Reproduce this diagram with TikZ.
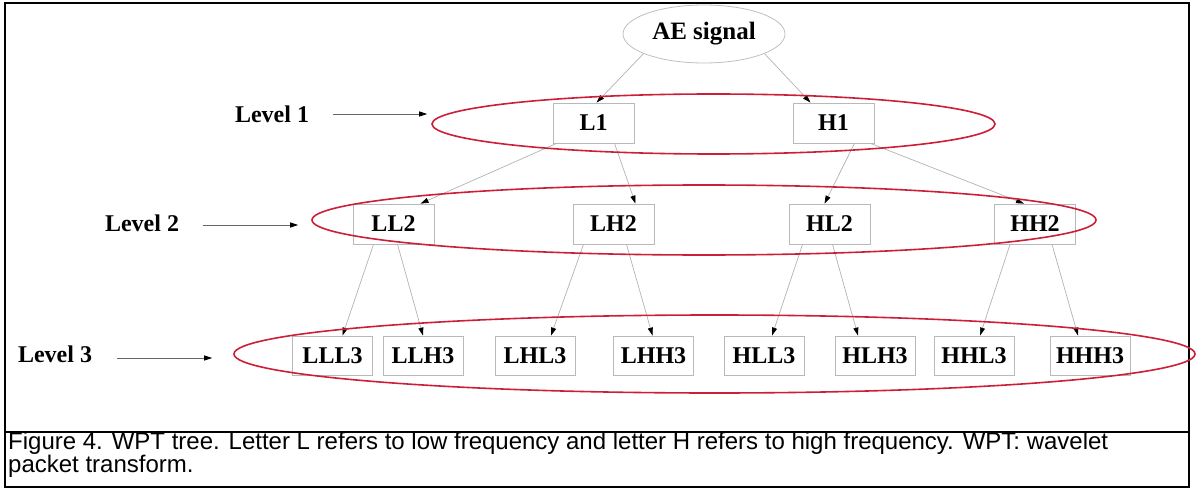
\documentclass[tikz,border=0pt]{standalone}
\usepackage{fontspec}
\setmainfont{Liberation Serif}
\newfontfamily\capfont{Liberation Sans}
\usetikzlibrary{arrows.meta,calc,shapes.geometric}
\definecolor{ringred}{RGB}{205,30,55}
\begin{document}
\begin{tikzpicture}[x=1pt,y=-1pt,
  box/.style={draw=gray!55,line width=0.8pt,minimum width=81pt,minimum height=40pt,inner sep=0pt,font=\bfseries\fontsize{24}{26}\selectfont},
  lvl/.style={font=\bfseries\fontsize{24}{26}\selectfont,inner sep=0pt},
  edge/.style={draw=gray!60,line width=0.7pt,-{Triangle[length=8pt,width=5pt,color=black]}},
  larrow/.style={draw=black!60,line width=0.8pt,-{Triangle[length=8pt,width=5pt,color=black]}},
  ring/.style={ellipse,draw=ringred,line width=1.6pt,inner sep=0pt},
  captext/.style={anchor=base west,inner sep=0pt,font=\capfont\fontsize{24}{28}\selectfont}
]
\useasboundingbox (0,0) rectangle (1198,489);
% frame
\draw[line width=2pt] (5,3) rectangle (1189,487);
\draw[line width=2pt] (5,432) -- (1189,432);
% root
\node[ellipse,draw=gray!50,line width=0.8pt,minimum width=162pt,minimum height=58pt,inner sep=0pt,font=\bfseries\fontsize{25}{27}\selectfont] (AE) at (704,34) {AE signal};
% level 1
\node[box] (L1) at (593.5,123) {L1};
\node[box] (H1) at (833.5,123) {H1};
% level 2
\node[box] (LL2) at (393.5,224) {LL2};
\node[box] (LH2) at (613.5,224) {LH2};
\node[box] (HL2) at (829.5,224) {HL2};
\node[box] (HH2) at (1035,224) {HH2};
% level 3
\node[box,minimum width=80pt,minimum height=39pt] (LLL3) at (332.5,355.5) {LLL3};
\node[box,minimum width=80pt,minimum height=39pt] (LLH3) at (423,355.5) {LLH3};
\node[box,minimum width=80pt,minimum height=39pt] (LHL3) at (535,355.5) {LHL3};
\node[box,minimum width=80pt,minimum height=39pt] (LHH3) at (653.5,355.5) {LHH3};
\node[box,minimum width=80pt,minimum height=39pt] (HLL3) at (764,355.5) {HLL3};
\node[box,minimum width=80pt,minimum height=39pt] (HLH3) at (875,355.5) {HLH3};
\node[box,minimum width=80pt,minimum height=39pt] (HHL3) at (974,355.5) {HHL3};
\node[box,minimum width=80pt,minimum height=39pt] (HHH3) at (1090,355.5) {HHH3};
% edges
\draw[edge] (AE.198) -- ($(L1.north)+(3,0)$);
\draw[edge] (AE.342) -- ($(H1.north)+(-23,0)$);
\draw[edge] ($(L1.south)+(-37,0)$) -- ($(LL2.north)+(27,0)$);
\draw[edge] ($(L1.south)+(21,0)$) -- ($(LH2.north)+(22,0)$);
\draw[edge] ($(H1.south)+(21,0)$) -- ($(HL2.north)+(-5,0)$);
\draw[edge] ($(H1.south)+(37,0)$) -- ($(HH2.north)+(-11,0)$);
\draw[edge] ($(LL2.south)+(-20,0)$) -- ($(LLL3.north)+(10,0)$);
\draw[edge] ($(LL2.south)+(4,0)$) -- ($(LLH3.north)+(0,0)$);
\draw[edge] ($(LH2.south)+(-30,0)$) -- ($(LHL3.north)+(16,0)$);
\draw[edge] ($(LH2.south)+(13,0)$) -- ($(LHH3.north)+(-1,0)$);
\draw[edge] ($(HL2.south)+(-27,0)$) -- ($(HLL3.north)+(8,0)$);
\draw[edge] ($(HL2.south)+(3,0)$) -- ($(HLH3.north)+(-17,0)$);
\draw[edge] ($(HH2.south)+(-25,0)$) -- ($(HHL3.north)+(6,0)$);
\draw[edge] ($(HH2.south)+(17,0)$) -- ($(HHH3.north)+(-12,0)$);
% rings
\node[ring,minimum width=563pt,minimum height=60pt] (ring1) at (713.5,124) {};
\node[ring,minimum width=784pt,minimum height=70pt] (ring2) at (704,220) {};
\node[ring,minimum width=961pt,minimum height=78pt] (ring3) at (714.5,354) {};
% level labels
\node[lvl] (lv1) at (272,114) {Level 1};
\node[lvl] (lv2) at (142,223) {Level 2};
\node[lvl] (lv3) at (55,354) {Level 3};
\coordinate (a1) at (333,114);
\coordinate (a2) at (203,225);
\coordinate (a3) at (117,358);
\draw[larrow,shorten >=4pt] (a1) -- (a1 -| ring1.west);
\draw[larrow,shorten >=13pt] (a2) -- (a2 -| ring2.west);
\draw[larrow,shorten >=21pt] (a3) -- (a3 -| ring3.west);
% caption
\node[captext] (c1) at (8,449) {Figure 4. WPT tree. Letter L refers to low frequency and letter H refers to high frequency. WPT: wavelet};
\node[captext] (c2) at (8,472) {packet transform.};
\end{tikzpicture}
\end{document}
